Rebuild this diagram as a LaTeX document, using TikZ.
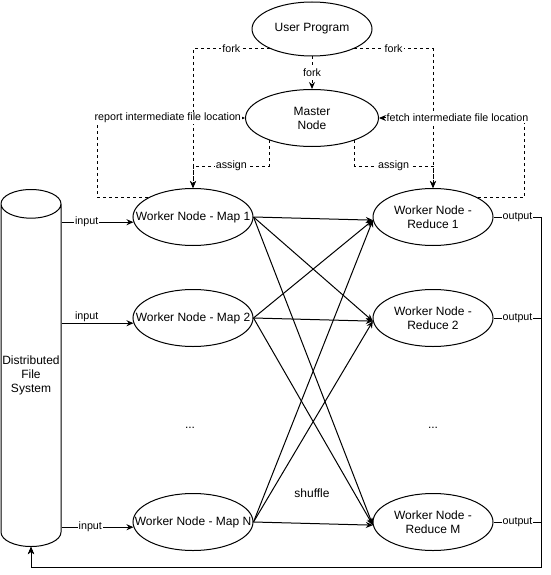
\documentclass[tikz,border=0pt]{standalone}
\usepackage{fontspec}
\setmainfont{Liberation Sans}
\usetikzlibrary{shapes.geometric,arrows.meta}
\begin{document}
\begin{tikzpicture}[x=1pt,y=-1pt,line width=1pt,
  box/.style = {ellipse,draw,minimum width=120pt,minimum height=57pt,inner xsep=-16pt,inner ysep=0pt,align=center,font=\fontsize{12}{14}\selectfont},
  txt/.style = {font=\fontsize{12}{14}\selectfont},
  lbl/.style = {font=\fontsize{10.7}{13}\selectfont,inner sep=1pt,fill=white},
  flow/.style = {-{Stealth[length=7pt,width=6pt]}},
  ctrl/.style = {flow,dash pattern=on 3pt off 3pt}]
\useasboundingbox (0,0) rectangle (550,575);
\node[box,minimum height=54pt] (user) at (312,29) {User Program};
\node[box,minimum width=133pt] (master) at (312,118) {Master\\Node};
    \foreach \n/\y/\t in {map1/217/1,map2/318/2,mapN/522/N} \node[box] (\n) at (193,\y) {Worker Node - Map \t};
    \foreach \n/\y/\t in {red1/217/1,red2/318/2,redM/522/M} \node[box] (\n) at (433,\y) {Worker Node -\\Reduce \t};
\node[cylinder,shape border rotate=90,draw,aspect=0.5,minimum width=60pt,minimum height=357pt,inner sep=0pt,align=center,txt,anchor=shape center] (dfs) at (31,368) {Distributed\\File\\System};
\node[txt] (dotsmap) at (190,428) {...};
\node[txt] (dotsred) at (433,428) {...};
\node[txt] (shuffle) at (312,493) {shuffle};
\draw[ctrl] (user.south) -- node[lbl]{fork} (master.north);
\draw[ctrl] (user.205) -| node[lbl,pos=0.25]{fork} (map1.north);
\draw[ctrl] (user.335) -| node[lbl,pos=0.25]{fork} (red1.north);
\draw[ctrl] (master.208) |- node[lbl,pos=0.75]{assign} ([yshift=22pt]map1.north) -- (map1.north);
\draw[ctrl] (master.332) |- node[lbl,pos=0.75]{assign} ([yshift=22pt]red1.north) -- (red1.north);
\draw[ctrl] (map1.157) -- ++(-50,0) |- node[lbl,pos=0.738]{report intermediate file location} (master.west);
\draw[ctrl] (red1.23) -- ++(46,0) |- node[lbl,pos=0.73]{fetch intermediate file location} (master.east);
\draw[flow] (map1.185 -| dfs.east) -- node[lbl,pos=0.35]{input} (map1.185);
\draw[flow] (map2.185 -| dfs.east) -- node[lbl,pos=0.35,fill=none,above]{input} (map2.185);
\draw[flow] (mapN.185 -| dfs.east) -- node[lbl,pos=0.4]{input} (mapN.185);
    \foreach \n in {red1,red2,redM} \draw[flow] (\n.east) -- node[lbl]{output} ++(48,0) |- ([yshift=-20pt]dfs.bottom) -- (dfs.bottom);
    \foreach \m in {map1,map2,mapN} \foreach \r in {red1,red2,redM} \draw[flow] (\m.east) -- (\r.183);
\end{tikzpicture}
\end{document}
